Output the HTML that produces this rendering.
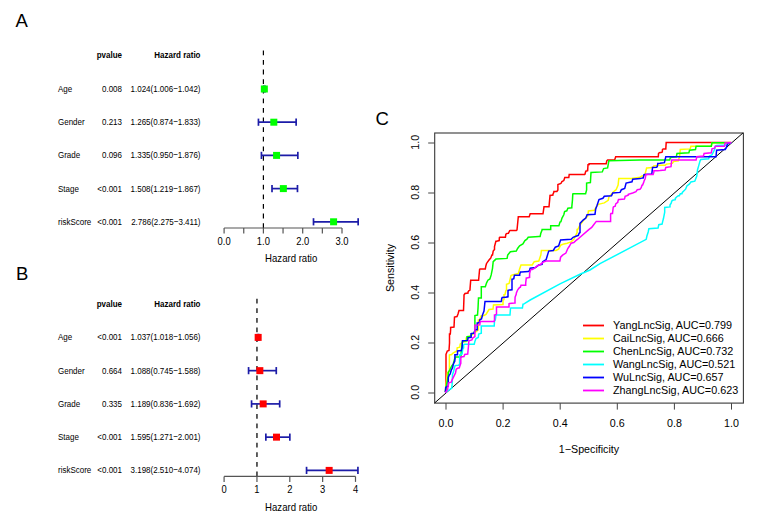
<!DOCTYPE html>
<html><head><meta charset="utf-8"><style>
html,body{margin:0;padding:0;background:#fff;width:758px;height:530px;overflow:hidden}
svg{display:block;font-family:"Liberation Sans", sans-serif}
</style></head><body>
<svg width="758" height="530" viewBox="0 0 758 530">
<text x="15.5" y="26.6" font-size="18.5" text-anchor="start" font-weight="normal" fill="#000" >A</text>
<text x="16.0" y="279.7" font-size="18.5" text-anchor="start" font-weight="normal" fill="#000" >B</text>
<text x="375.5" y="125.2" font-size="18.5" text-anchor="start" font-weight="normal" fill="#000" >C</text>
<text transform="translate(122.00,57.90) scale(1,1.18)" font-size="8" text-anchor="end" font-weight="bold" fill="#000" >pvalue</text>
<text transform="translate(200.50,57.90) scale(1,1.18)" font-size="8" text-anchor="end" font-weight="bold" fill="#000" >Hazard ratio</text>
<line x1="263.4" y1="50.4" x2="263.4" y2="228" stroke="#000" stroke-width="1.2" stroke-dasharray="4.8,4.8"/>
<text transform="translate(58.00,91.90) scale(1,1.18)" font-size="8" text-anchor="start" font-weight="normal" fill="#000" >Age</text>
<text transform="translate(122.00,91.90) scale(1,1.18)" font-size="8" text-anchor="end" font-weight="normal" fill="#000" >0.008</text>
<text transform="translate(200.50,91.90) scale(1,1.18)" font-size="8" text-anchor="end" font-weight="normal" fill="#000" >1.024(1.006−1.042)</text>
<line x1="263.6358" y1="89.0" x2="265.0506" y2="89.0" stroke="#1c1ca8" stroke-width="1.7" />
<line x1="263.6358" y1="85.4" x2="263.6358" y2="92.6" stroke="#1c1ca8" stroke-width="1.7" />
<line x1="265.0506" y1="85.4" x2="265.0506" y2="92.6" stroke="#1c1ca8" stroke-width="1.7" />
<rect x="260.84319999999997" y="85.5" width="7" height="7" fill="#00ff00"/>
<text transform="translate(58.00,125.10) scale(1,1.18)" font-size="8" text-anchor="start" font-weight="normal" fill="#000" >Gender</text>
<text transform="translate(122.00,125.10) scale(1,1.18)" font-size="8" text-anchor="end" font-weight="normal" fill="#000" >0.213</text>
<text transform="translate(200.50,125.10) scale(1,1.18)" font-size="8" text-anchor="end" font-weight="normal" fill="#000" >1.265(0.874−1.833)</text>
<line x1="258.4482" y1="122.2" x2="296.13689999999997" y2="122.2" stroke="#1c1ca8" stroke-width="1.7" />
<line x1="258.4482" y1="118.60000000000001" x2="258.4482" y2="125.8" stroke="#1c1ca8" stroke-width="1.7" />
<line x1="296.13689999999997" y1="118.60000000000001" x2="296.13689999999997" y2="125.8" stroke="#1c1ca8" stroke-width="1.7" />
<rect x="270.3145" y="118.7" width="7" height="7" fill="#00ff00"/>
<text transform="translate(58.00,158.30) scale(1,1.18)" font-size="8" text-anchor="start" font-weight="normal" fill="#000" >Grade</text>
<text transform="translate(122.00,158.30) scale(1,1.18)" font-size="8" text-anchor="end" font-weight="normal" fill="#000" >0.096</text>
<text transform="translate(200.50,158.30) scale(1,1.18)" font-size="8" text-anchor="end" font-weight="normal" fill="#000" >1.335(0.950−1.876)</text>
<line x1="261.435" y1="155.4" x2="297.8268" y2="155.4" stroke="#1c1ca8" stroke-width="1.7" />
<line x1="261.435" y1="151.8" x2="261.435" y2="159.0" stroke="#1c1ca8" stroke-width="1.7" />
<line x1="297.8268" y1="151.8" x2="297.8268" y2="159.0" stroke="#1c1ca8" stroke-width="1.7" />
<rect x="273.0655" y="151.9" width="7" height="7" fill="#00ff00"/>
<text transform="translate(58.00,191.50) scale(1,1.18)" font-size="8" text-anchor="start" font-weight="normal" fill="#000" >Stage</text>
<text transform="translate(122.00,191.50) scale(1,1.18)" font-size="8" text-anchor="end" font-weight="normal" fill="#000" >&lt;0.001</text>
<text transform="translate(200.50,191.50) scale(1,1.18)" font-size="8" text-anchor="end" font-weight="normal" fill="#000" >1.508(1.219−1.867)</text>
<line x1="272.0067" y1="188.60000000000002" x2="297.4731" y2="188.60000000000002" stroke="#1c1ca8" stroke-width="1.7" />
<line x1="272.0067" y1="185.00000000000003" x2="272.0067" y2="192.20000000000002" stroke="#1c1ca8" stroke-width="1.7" />
<line x1="297.4731" y1="185.00000000000003" x2="297.4731" y2="192.20000000000002" stroke="#1c1ca8" stroke-width="1.7" />
<rect x="279.8644" y="185.10000000000002" width="7" height="7" fill="#00ff00"/>
<text transform="translate(58.00,224.70) scale(1,1.18)" font-size="8" text-anchor="start" font-weight="normal" fill="#000" >riskScore</text>
<text transform="translate(122.00,224.70) scale(1,1.18)" font-size="8" text-anchor="end" font-weight="normal" fill="#000" >&lt;0.001</text>
<text transform="translate(200.50,224.70) scale(1,1.18)" font-size="8" text-anchor="end" font-weight="normal" fill="#000" >2.786(2.275−3.411)</text>
<line x1="313.5075" y1="221.8" x2="358.15229999999997" y2="221.8" stroke="#1c1ca8" stroke-width="1.7" />
<line x1="313.5075" y1="218.20000000000002" x2="313.5075" y2="225.4" stroke="#1c1ca8" stroke-width="1.7" />
<line x1="358.15229999999997" y1="218.20000000000002" x2="358.15229999999997" y2="225.4" stroke="#1c1ca8" stroke-width="1.7" />
<rect x="330.08979999999997" y="218.3" width="7" height="7" fill="#00ff00"/>
<line x1="224.1" y1="228" x2="342.0" y2="228" stroke="#555" stroke-width="1.2" />
<line x1="224.1" y1="228" x2="224.1" y2="233.5" stroke="#555" stroke-width="1.2" />
<line x1="243.75" y1="228" x2="243.75" y2="233.5" stroke="#555" stroke-width="1.2" />
<line x1="263.4" y1="228" x2="263.4" y2="233.5" stroke="#555" stroke-width="1.2" />
<line x1="283.05" y1="228" x2="283.05" y2="233.5" stroke="#555" stroke-width="1.2" />
<line x1="302.7" y1="228" x2="302.7" y2="233.5" stroke="#555" stroke-width="1.2" />
<line x1="322.35" y1="228" x2="322.35" y2="233.5" stroke="#555" stroke-width="1.2" />
<line x1="342.0" y1="228" x2="342.0" y2="233.5" stroke="#555" stroke-width="1.2" />
<text transform="translate(224.10,244.50) scale(1,1.18)" font-size="9.4" text-anchor="middle" font-weight="normal" fill="#000" >0.0</text>
<text transform="translate(263.40,244.50) scale(1,1.18)" font-size="9.4" text-anchor="middle" font-weight="normal" fill="#000" >1.0</text>
<text transform="translate(302.70,244.50) scale(1,1.18)" font-size="9.4" text-anchor="middle" font-weight="normal" fill="#000" >2.0</text>
<text transform="translate(342.00,244.50) scale(1,1.18)" font-size="9.4" text-anchor="middle" font-weight="normal" fill="#000" >3.0</text>
<text transform="translate(291.20,261.50) scale(1,1.18)" font-size="9.6" text-anchor="middle" font-weight="normal" fill="#000" >Hazard ratio</text>
<text transform="translate(122.00,306.50) scale(1,1.18)" font-size="8" text-anchor="end" font-weight="bold" fill="#000" >pvalue</text>
<text transform="translate(200.50,306.50) scale(1,1.18)" font-size="8" text-anchor="end" font-weight="bold" fill="#000" >Hazard ratio</text>
<line x1="256.95" y1="298.7" x2="256.95" y2="476.4" stroke="#444" stroke-width="1.7" stroke-dasharray="4.8,4.8"/>
<text transform="translate(58.00,340.30) scale(1,1.18)" font-size="8" text-anchor="start" font-weight="normal" fill="#000" >Age</text>
<text transform="translate(122.00,340.30) scale(1,1.18)" font-size="8" text-anchor="end" font-weight="normal" fill="#000" >&lt;0.001</text>
<text transform="translate(200.50,340.30) scale(1,1.18)" font-size="8" text-anchor="end" font-weight="normal" fill="#000" >1.037(1.018−1.056)</text>
<line x1="257.5413" y1="337.4" x2="258.7896" y2="337.4" stroke="#1c1ca8" stroke-width="1.7" />
<line x1="257.5413" y1="333.79999999999995" x2="257.5413" y2="341.0" stroke="#1c1ca8" stroke-width="1.7" />
<line x1="258.7896" y1="333.79999999999995" x2="258.7896" y2="341.0" stroke="#1c1ca8" stroke-width="1.7" />
<rect x="254.66544999999996" y="333.9" width="7" height="7" fill="#ff0000"/>
<text transform="translate(58.00,373.55) scale(1,1.18)" font-size="8" text-anchor="start" font-weight="normal" fill="#000" >Gender</text>
<text transform="translate(122.00,373.55) scale(1,1.18)" font-size="8" text-anchor="end" font-weight="normal" fill="#000" >0.664</text>
<text transform="translate(200.50,373.55) scale(1,1.18)" font-size="8" text-anchor="end" font-weight="normal" fill="#000" >1.088(0.745−1.588)</text>
<line x1="248.57325" y1="370.65" x2="276.2658" y2="370.65" stroke="#1c1ca8" stroke-width="1.7" />
<line x1="248.57325" y1="367.04999999999995" x2="248.57325" y2="374.25" stroke="#1c1ca8" stroke-width="1.7" />
<line x1="276.2658" y1="367.04999999999995" x2="276.2658" y2="374.25" stroke="#1c1ca8" stroke-width="1.7" />
<rect x="256.3408" y="367.15" width="7" height="7" fill="#ff0000"/>
<text transform="translate(58.00,406.80) scale(1,1.18)" font-size="8" text-anchor="start" font-weight="normal" fill="#000" >Grade</text>
<text transform="translate(122.00,406.80) scale(1,1.18)" font-size="8" text-anchor="end" font-weight="normal" fill="#000" >0.335</text>
<text transform="translate(200.50,406.80) scale(1,1.18)" font-size="8" text-anchor="end" font-weight="normal" fill="#000" >1.189(0.836−1.692)</text>
<line x1="251.5626" y1="403.9" x2="279.68219999999997" y2="403.9" stroke="#1c1ca8" stroke-width="1.7" />
<line x1="251.5626" y1="400.29999999999995" x2="251.5626" y2="407.5" stroke="#1c1ca8" stroke-width="1.7" />
<line x1="279.68219999999997" y1="400.29999999999995" x2="279.68219999999997" y2="407.5" stroke="#1c1ca8" stroke-width="1.7" />
<rect x="259.65864999999997" y="400.4" width="7" height="7" fill="#ff0000"/>
<text transform="translate(58.00,440.05) scale(1,1.18)" font-size="8" text-anchor="start" font-weight="normal" fill="#000" >Stage</text>
<text transform="translate(122.00,440.05) scale(1,1.18)" font-size="8" text-anchor="end" font-weight="normal" fill="#000" >&lt;0.001</text>
<text transform="translate(200.50,440.05) scale(1,1.18)" font-size="8" text-anchor="end" font-weight="normal" fill="#000" >1.595(1.271−2.001)</text>
<line x1="265.85235" y1="437.15" x2="289.83285" y2="437.15" stroke="#1c1ca8" stroke-width="1.7" />
<line x1="265.85235" y1="433.54999999999995" x2="265.85235" y2="440.75" stroke="#1c1ca8" stroke-width="1.7" />
<line x1="289.83285" y1="433.54999999999995" x2="289.83285" y2="440.75" stroke="#1c1ca8" stroke-width="1.7" />
<rect x="272.99575" y="433.65" width="7" height="7" fill="#ff0000"/>
<text transform="translate(58.00,473.30) scale(1,1.18)" font-size="8" text-anchor="start" font-weight="normal" fill="#000" >riskScore</text>
<text transform="translate(122.00,473.30) scale(1,1.18)" font-size="8" text-anchor="end" font-weight="normal" fill="#000" >&lt;0.001</text>
<text transform="translate(200.50,473.30) scale(1,1.18)" font-size="8" text-anchor="end" font-weight="normal" fill="#000" >3.198(2.510−4.074)</text>
<line x1="306.5535" y1="470.4" x2="357.9309" y2="470.4" stroke="#1c1ca8" stroke-width="1.7" />
<line x1="306.5535" y1="466.79999999999995" x2="306.5535" y2="474.0" stroke="#1c1ca8" stroke-width="1.7" />
<line x1="357.9309" y1="466.79999999999995" x2="357.9309" y2="474.0" stroke="#1c1ca8" stroke-width="1.7" />
<rect x="325.6543" y="466.9" width="7" height="7" fill="#ff0000"/>
<line x1="224.1" y1="476.4" x2="355.5" y2="476.4" stroke="#555" stroke-width="1.2" />
<line x1="224.1" y1="476.4" x2="224.1" y2="481.9" stroke="#555" stroke-width="1.2" />
<line x1="256.95" y1="476.4" x2="256.95" y2="481.9" stroke="#555" stroke-width="1.2" />
<line x1="289.8" y1="476.4" x2="289.8" y2="481.9" stroke="#555" stroke-width="1.2" />
<line x1="322.65" y1="476.4" x2="322.65" y2="481.9" stroke="#555" stroke-width="1.2" />
<line x1="355.5" y1="476.4" x2="355.5" y2="481.9" stroke="#555" stroke-width="1.2" />
<text transform="translate(224.10,492.50) scale(1,1.18)" font-size="9.4" text-anchor="middle" font-weight="normal" fill="#000" >0</text>
<text transform="translate(256.95,492.50) scale(1,1.18)" font-size="9.4" text-anchor="middle" font-weight="normal" fill="#000" >1</text>
<text transform="translate(289.80,492.50) scale(1,1.18)" font-size="9.4" text-anchor="middle" font-weight="normal" fill="#000" >2</text>
<text transform="translate(322.65,492.50) scale(1,1.18)" font-size="9.4" text-anchor="middle" font-weight="normal" fill="#000" >3</text>
<text transform="translate(355.50,492.50) scale(1,1.18)" font-size="9.4" text-anchor="middle" font-weight="normal" fill="#000" >4</text>
<text transform="translate(291.20,510.60) scale(1,1.18)" font-size="9.6" text-anchor="middle" font-weight="normal" fill="#000" >Hazard ratio</text>
<rect x="434.7" y="133" width="308.7" height="270.1" fill="none" stroke="#383838" stroke-width="1.1"/>
<line x1="446.0" y1="403.1" x2="446.0" y2="409.6" stroke="#444" stroke-width="1.0" />
<text x="446.0" y="426.6" font-size="10.7" text-anchor="middle" font-weight="normal" fill="#000" >0.0</text>
<line x1="434.7" y1="393.0" x2="428.2" y2="393.0" stroke="#444" stroke-width="1.0" />
<text x="418.8" y="392.3" font-size="10.7" text-anchor="middle" font-weight="normal" fill="#000" transform="rotate(-90 418.8 392.3)">0.0</text>
<line x1="503.1" y1="403.1" x2="503.1" y2="409.6" stroke="#444" stroke-width="1.0" />
<text x="503.1" y="426.6" font-size="10.7" text-anchor="middle" font-weight="normal" fill="#000" >0.2</text>
<line x1="434.7" y1="343.0" x2="428.2" y2="343.0" stroke="#444" stroke-width="1.0" />
<text x="418.8" y="342.3" font-size="10.7" text-anchor="middle" font-weight="normal" fill="#000" transform="rotate(-90 418.8 342.3)">0.2</text>
<line x1="560.2" y1="403.1" x2="560.2" y2="409.6" stroke="#444" stroke-width="1.0" />
<text x="560.2" y="426.6" font-size="10.7" text-anchor="middle" font-weight="normal" fill="#000" >0.4</text>
<line x1="434.7" y1="293.0" x2="428.2" y2="293.0" stroke="#444" stroke-width="1.0" />
<text x="418.8" y="292.3" font-size="10.7" text-anchor="middle" font-weight="normal" fill="#000" transform="rotate(-90 418.8 292.3)">0.4</text>
<line x1="617.3" y1="403.1" x2="617.3" y2="409.6" stroke="#444" stroke-width="1.0" />
<text x="617.3" y="426.6" font-size="10.7" text-anchor="middle" font-weight="normal" fill="#000" >0.6</text>
<line x1="434.7" y1="242.99999999999997" x2="428.2" y2="242.99999999999997" stroke="#444" stroke-width="1.0" />
<text x="418.8" y="242.29999999999998" font-size="10.7" text-anchor="middle" font-weight="normal" fill="#000" transform="rotate(-90 418.8 242.29999999999998)">0.6</text>
<line x1="674.4" y1="403.1" x2="674.4" y2="409.6" stroke="#444" stroke-width="1.0" />
<text x="674.4" y="426.6" font-size="10.7" text-anchor="middle" font-weight="normal" fill="#000" >0.8</text>
<line x1="434.7" y1="193.0" x2="428.2" y2="193.0" stroke="#444" stroke-width="1.0" />
<text x="418.8" y="192.3" font-size="10.7" text-anchor="middle" font-weight="normal" fill="#000" transform="rotate(-90 418.8 192.3)">0.8</text>
<line x1="731.5" y1="403.1" x2="731.5" y2="409.6" stroke="#444" stroke-width="1.0" />
<text x="731.5" y="426.6" font-size="10.7" text-anchor="middle" font-weight="normal" fill="#000" >1.0</text>
<line x1="434.7" y1="143.0" x2="428.2" y2="143.0" stroke="#444" stroke-width="1.0" />
<text x="418.8" y="142.3" font-size="10.7" text-anchor="middle" font-weight="normal" fill="#000" transform="rotate(-90 418.8 142.3)">1.0</text>
<text x="589" y="453.40000000000003" font-size="10.7" text-anchor="middle" font-weight="normal" fill="#000" >1−Specificity</text>
<text x="393.5" y="268" font-size="10.7" text-anchor="middle" font-weight="normal" fill="#000" transform="rotate(-90 393.5 268)">Sensitivity</text>
<line x1="434.58" y1="403.0" x2="742.9200000000001" y2="133.0" stroke="#000" stroke-width="1"/>
<clipPath id="cp"><rect x="434.7" y="133" width="308.7" height="270.1"/></clipPath>
<polyline points="446.0,392.0 446.0,355.0 446.0,354.4 447.3,351.1 449.0,350.5 449.5,343.0 449.5,335.3 449.5,334.0 450.3,334.0 450.6,330.0 450.6,327.5 454.0,327.0 454.5,317.0 457.0,316.5 458.0,314.0 459.0,310.5 463.5,310.5 464.0,297.0 464.0,295.0 465.0,293.5 468.0,293.0 468.0,292.0 469.0,290.5 470.0,290.0 470.0,289.1 470.7,280.2 478.6,280.2 479.6,269.3 480.0,269.0 484.6,269.0 485.3,269.0 485.9,265.7 486.6,263.3 487.3,262.4 489.2,259.7 489.5,259.4 490.6,258.4 491.9,255.1 492.5,255.1 493.2,251.1 494.5,249.4 494.5,246.5 495.9,241.2 496.5,241.2 499.2,240.6 499.4,237.6 499.8,237.3 504.4,237.3 505.4,237.3 505.8,234.6 506.4,233.6 508.4,233.3 509.7,230.7 510.3,230.6 516.3,230.6 517.0,230.0 518.3,216.8 529.2,216.8 530.2,213.8 543.0,213.8 544.0,206.8 549.0,206.8 550.0,195.9 550.0,195.4 552.9,195.0 552.9,194.4 553.9,192.0 553.9,191.5 556.9,191.5 556.9,191.5 557.9,190.0 557.9,184.5 560.9,183.5 561.9,181.6 563.8,180.6 564.8,177.6 568.8,177.6 569.2,174.5 569.8,174.5 584.6,174.5 585.1,173.9 585.1,173.6 585.6,171.7 585.8,171.2 587.6,170.7 587.6,169.7 587.7,169.7 588.0,164.7 589.1,164.6 589.1,163.7 590.0,163.7 605.8,163.7 606.2,163.7 606.8,160.8 607.6,160.0 614.7,159.8 615.7,156.8 640.0,156.8 657.8,156.8 658.3,156.8 658.5,153.5 659.3,152.8 661.8,152.2 662.3,151.8 662.5,149.5 663.3,148.9 665.3,148.9 665.8,148.9 666.2,142.5 666.4,142.5 731.4,142.5" fill="none" stroke="#ff0000" stroke-width="1.5" clip-path="url(#cp)" stroke-linejoin="miter"/>
<polyline points="445.3,392.0 447.5,372.4 449.4,371.6 449.4,355.0 450.0,354.7 451.3,354.7 453.0,353.2 456.8,351.0 457.2,347.9 459.8,347.2 460.2,344.2 462.8,341.9 465.9,341.5 466.2,338.1 468.1,337.4 472.6,334.3 478.3,329.8 478.3,320.0 478.7,320.0 480.0,319.0 481.0,316.0 484.0,315.5 486.0,314.5 489.0,309.5 493.0,309.0 493.5,305.0 503.0,304.5 503.0,300.0 504.0,299.5 504.0,294.7 505.0,294.5 505.8,290.8 506.5,290.0 506.5,284.2 509.1,283.5 511.0,275.6 512.4,274.9 518.3,273.6 519.6,269.0 521.0,265.0 532.2,265.0 534.2,261.7 538.8,261.0 540.8,255.1 541.4,250.5 548.0,250.5 556.0,250.5 558.6,249.2 560.6,245.2 563.9,243.9 567.2,243.2 571.1,241.9 573.8,239.2 575.1,236.6 577.1,232.6 577.1,229.4 577.8,229.4 579.8,225.4 583.8,220.1 587.7,216.1 588.4,210.9 594.3,210.2 596.3,206.9 598.3,204.3 604.3,202.9 608.2,200.3 608.9,197.0 613.5,191.7 616.1,189.7 618.1,185.1 618.8,178.5 631.3,178.5 640.0,177.3 640.0,177.2 641.9,175.9 645.3,175.3 645.3,173.2 646.6,168.0 647.2,168.0 651.9,167.4 652.5,167.4 653.8,165.9 660.0,165.3 665.1,165.3 666.4,164.1 672.4,163.4 673.7,161.4 678.3,160.8 679.6,156.1 680.3,149.5 690.2,148.9 690.9,146.2 696.8,146.2 711.3,146.2 712.0,142.7 731.4,142.7" fill="none" stroke="#ffff00" stroke-width="1.5" clip-path="url(#cp)" stroke-linejoin="miter"/>
<polyline points="445.4,392.0 448.3,374.6 448.3,373.6 448.3,372.4 449.9,369.6 451.9,365.7 453.2,364.1 454.5,359.3 455.6,357.1 460.6,356.9 460.9,356.9 461.3,350.6 462.5,341.1 467.0,340.8 467.0,336.6 471.1,336.2 471.5,333.6 474.2,333.2 474.9,329.8 474.9,325.0 474.9,320.0 474.9,315.5 477.5,315.0 478.0,308.5 478.5,298.0 481.3,298.0 481.3,297.5 481.3,290.0 481.3,286.8 485.3,286.8 486.6,282.8 487.9,280.2 489.9,278.9 491.2,274.9 492.5,268.3 493.2,261.7 495.9,259.1 507.1,258.4 507.7,255.1 510.4,251.8 516.3,251.1 517.6,248.5 519.6,245.9 522.9,243.9 524.9,240.6 526.9,239.2 528.2,237.3 538.8,236.6 540.1,236.6 540.8,233.3 542.1,230.0 542.1,229.6 550.7,229.6 550.7,225.7 558.9,225.7 560.0,222.1 560.9,221.7 562.0,218.1 563.8,214.8 564.6,211.5 566.8,210.8 567.9,208.2 571.8,207.8 571.8,206.9 572.5,199.6 572.8,194.0 573.2,193.7 585.1,193.7 585.6,193.7 586.6,190.0 586.6,188.4 586.6,183.1 590.4,182.5 591.0,172.5 602.3,171.9 603.6,168.6 607.6,167.9 608.2,164.6 608.9,160.7 640.0,160.1 660.0,160.1 669.7,160.1 670.4,157.5 676.3,156.8 677.0,153.5 688.9,152.8 689.5,150.2 695.5,149.5 696.1,146.2 711.3,146.2 712.0,142.7 731.4,142.7" fill="none" stroke="#00ff00" stroke-width="1.5" clip-path="url(#cp)" stroke-linejoin="miter"/>
<polyline points="445.3,392.7 448.3,390.5 451.7,388.2 452.1,384.4 452.5,374.6 453.6,371.6 454.3,368.2 455.1,365.6 458.1,365.2 459.6,364.8 459.6,360.0 459.8,354.7 462.1,354.0 462.5,351.0 462.8,348.7 463.6,347.9 463.6,344.9 464.7,344.2 474.2,344.2 474.9,341.5 476.0,338.5 478.3,337.4 478.7,334.0 481.3,333.2 481.3,326.0 494.2,326.0 494.5,321.1 495.3,320.0 496.0,315.0 509.8,314.9 510.0,314.9 510.5,308.3 511.0,308.0 515.0,308.0 522.4,308.0 523.0,304.3 523.3,304.3 530.2,300.0 560.0,283.9 580.0,274.3 590.0,270.0 600.0,263.7 646.2,239.3 646.9,236.0 648.2,232.0 648.9,228.7 658.1,228.0 658.8,224.7 662.1,224.1 662.7,221.4 663.4,218.8 664.7,212.2 664.7,207.5 670.0,206.9 670.0,205.0 671.3,202.9 671.7,201.1 672.7,200.3 675.3,199.6 675.3,198.4 676.6,197.0 678.3,195.8 679.3,195.8 680.3,193.8 681.9,193.8 682.3,192.5 685.6,189.2 686.9,185.9 689.5,183.9 690.9,181.9 694.8,181.2 696.8,176.0 697.5,170.0 698.8,165.4 700.1,160.8 700.8,159.4 708.7,158.8 709.4,156.1 712.0,154.8 714.6,149.5 715.3,146.2 716.6,145.6 727.2,144.9 728.8,142.9 731.4,142.7" fill="none" stroke="#00ffff" stroke-width="1.5" clip-path="url(#cp)" stroke-linejoin="miter"/>
<polyline points="445.3,392.0 445.7,387.5 446.8,386.7 448.3,386.0 448.3,377.6 449.1,375.4 450.2,373.9 451.3,370.1 452.5,367.8 453.2,364.8 454.0,362.5 454.7,361.4 454.9,360.0 454.9,354.7 457.5,354.7 457.5,351.0 461.3,350.6 462.1,347.6 462.5,340.8 467.7,340.4 468.1,337.7 471.1,337.4 471.1,333.6 473.8,333.2 475.3,329.8 477.2,329.8 477.2,323.0 477.5,323.0 479.4,322.6 479.4,322.0 479.8,320.0 480.0,319.5 481.5,319.0 482.5,315.0 484.0,311.0 485.0,301.5 490.0,301.5 501.2,301.5 501.5,301.0 501.5,300.0 501.8,298.0 502.5,297.7 502.5,297.5 507.2,297.1 507.2,296.7 508.0,296.7 508.0,290.5 508.4,290.5 509.0,290.0 511.0,290.0 511.1,289.8 512.0,289.8 512.0,279.2 512.4,279.2 513.8,278.6 514.3,275.6 514.4,275.3 519.7,275.3 519.7,274.3 520.4,272.0 521.6,272.0 528.2,271.6 529.0,271.3 529.6,270.0 530.2,268.3 535.5,267.6 538.8,265.0 542.1,264.3 542.7,261.7 546.1,259.7 548.7,251.1 553.3,250.5 555.3,247.2 558.6,245.9 560.6,239.9 571.1,239.2 573.1,237.3 578.4,235.3 579.1,233.3 580.0,232.6 580.0,230.0 580.0,223.4 583.1,220.1 585.8,218.1 587.1,214.8 595.0,214.2 595.7,208.9 597.0,205.6 599.0,199.6 602.9,198.3 604.3,196.3 611.5,195.7 612.8,193.0 620.1,192.4 621.4,189.7 624.7,188.4 626.1,183.1 632.0,181.8 632.7,179.2 640.0,178.6 642.6,177.9 643.2,177.9 644.0,174.6 644.5,174.5 651.9,174.0 651.9,173.2 652.5,167.9 652.5,167.4 656.4,167.3 657.2,166.7 657.8,164.0 657.8,163.4 660.0,163.3 664.4,162.7 665.8,156.8 716.0,156.8 716.6,150.2 725.2,149.5 726.5,147.5 727.2,144.9 728.5,142.9 731.4,142.7" fill="none" stroke="#0000ff" stroke-width="1.5" clip-path="url(#cp)" stroke-linejoin="miter"/>
<polyline points="445.3,392.7 447.5,389.7 448.7,382.9 451.3,382.2 452.1,379.9 453.2,377.6 454.3,375.4 455.5,373.1 456.2,369.3 457.7,368.2 459.3,367.8 460.0,365.6 460.8,363.3 460.8,360.0 460.9,357.0 464.0,356.6 464.7,354.4 467.7,354.0 468.5,346.0 468.9,340.8 471.9,340.0 472.6,338.1 474.9,336.6 474.9,325.3 479.8,324.9 480.2,321.5 494.0,321.5 494.2,321.5 494.5,320.0 494.5,315.0 495.3,315.0 496.5,314.0 496.5,307.6 496.5,307.0 507.8,307.0 509.0,307.0 509.0,303.7 509.5,303.5 514.4,303.0 515.0,303.0 515.0,300.0 515.1,297.1 516.3,294.1 516.3,293.1 517.6,290.1 517.7,289.8 519.6,287.5 520.4,287.2 521.0,285.2 522.3,285.2 525.7,285.2 525.7,282.8 526.3,277.9 526.9,277.9 529.6,277.3 529.6,273.6 530.3,270.7 530.9,269.6 532.3,269.6 534.2,268.3 537.5,265.7 540.8,264.3 542.7,262.4 546.1,261.0 559.9,261.0 560.6,257.1 562.6,255.1 565.9,253.1 567.8,248.5 569.2,246.5 571.1,243.2 573.8,242.5 575.8,240.6 577.8,239.2 580.0,237.3 589.1,229.4 591.7,227.4 593.7,224.7 596.3,221.4 600.0,221.4 610.6,221.4 610.6,220.8 610.6,214.2 610.9,213.5 612.5,213.5 612.8,210.9 613.2,207.5 613.5,206.9 615.2,206.2 615.5,204.9 615.9,203.6 617.8,202.3 617.8,201.6 618.5,199.6 619.4,199.6 624.4,199.0 624.7,198.3 625.1,196.3 626.7,195.7 628.4,195.0 628.4,194.3 632.7,193.0 636.0,191.7 637.3,189.7 640.0,189.2 641.2,187.7 642.0,185.2 642.6,185.1 643.9,181.8 644.0,181.2 645.2,178.5 645.9,174.6 647.2,174.6 653.1,174.5 653.2,174.0 653.8,172.5 653.9,170.7 657.8,170.7 660.0,170.6 665.1,170.0 665.8,167.4 671.0,166.7 671.7,160.1 696.1,160.1 696.8,156.8 703.4,156.1 704.1,153.5 711.3,152.8 712.0,148.9 714.6,148.2 715.3,146.2 724.5,146.2 725.2,142.9 731.4,142.7" fill="none" stroke="#ff00ff" stroke-width="1.5" clip-path="url(#cp)" stroke-linejoin="miter"/>
<line x1="583" y1="325.5" x2="604" y2="325.5" stroke="#ff0000" stroke-width="1.8" />
<text x="613" y="329.3" font-size="10.8" text-anchor="start" font-weight="normal" fill="#000" >YangLncSig, AUC=0.799</text>
<line x1="583" y1="338.5" x2="604" y2="338.5" stroke="#ffff00" stroke-width="1.8" />
<text x="613" y="342.3" font-size="10.8" text-anchor="start" font-weight="normal" fill="#000" >CaiLncSig, AUC=0.666</text>
<line x1="583" y1="351.5" x2="604" y2="351.5" stroke="#00ff00" stroke-width="1.8" />
<text x="613" y="355.3" font-size="10.8" text-anchor="start" font-weight="normal" fill="#000" >ChenLncSig, AUC=0.732</text>
<line x1="583" y1="364.5" x2="604" y2="364.5" stroke="#00ffff" stroke-width="1.8" />
<text x="613" y="368.3" font-size="10.8" text-anchor="start" font-weight="normal" fill="#000" >WangLncSig, AUC=0.521</text>
<line x1="583" y1="377.5" x2="604" y2="377.5" stroke="#0000ff" stroke-width="1.8" />
<text x="613" y="381.3" font-size="10.8" text-anchor="start" font-weight="normal" fill="#000" >WuLncSig, AUC=0.657</text>
<line x1="583" y1="390.5" x2="604" y2="390.5" stroke="#ff00ff" stroke-width="1.8" />
<text x="613" y="394.3" font-size="10.8" text-anchor="start" font-weight="normal" fill="#000" >ZhangLncSig, AUC=0.623</text>
</svg></body></html>
